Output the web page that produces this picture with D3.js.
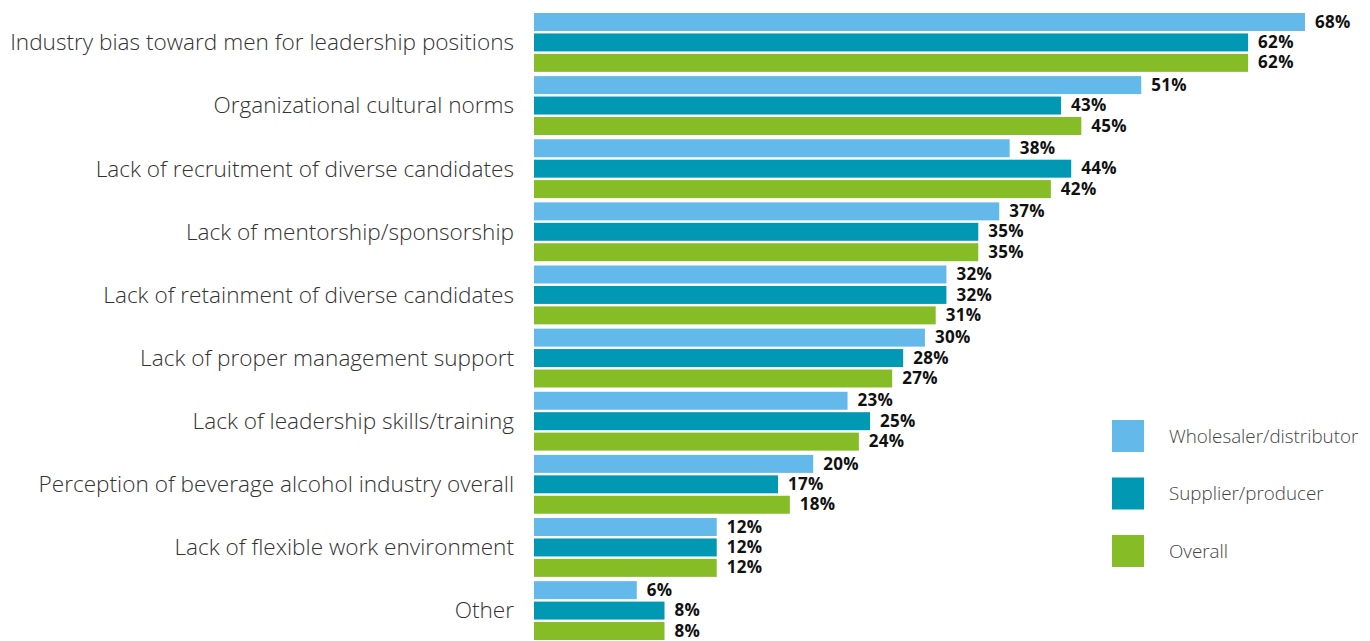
<!DOCTYPE html>
<html>
<head>
<meta charset="utf-8">
<script src="https://cdn.jsdelivr.net/npm/d3@7"></script>
<style>
  body { margin: 0; background: #fff; }
  #chart_pane { width: 1370px; height: 641px; }
</style>
</head>
<body>
<div id="chart_pane"></div>
<script>
// data
var categories = [
    "Industry bias toward men for leadership positions",
    "Organizational cultural norms",
    "Lack of recruitment of diverse candidates",
    "Lack of mentorship/sponsorship",
    "Lack of retainment of diverse candidates",
    "Lack of proper management support",
    "Lack of leadership skills/training",
    "Perception of beverage alcohol industry overall",
    "Lack of flexible work environment",
    "Other"
];
var seriesNames = ["Wholesaler/distributor", "Supplier/producer", "Overall"];
var wholesaler = [68, 51, 38, 37, 32, 30, 23, 20, 12, 6];
var supplier   = [62, 43, 44, 35, 32, 28, 25, 17, 12, 8];
var overall    = [62, 45, 42, 35, 31, 27, 24, 18, 12, 8];
var seriesColors = ["#62B9EA", "#0098B3", "#86BC25"];

var seriesValues = [wholesaler, supplier, overall];

var w = 1370, h = 641;

var svg = d3.select("#chart_pane")
    .append("svg")
    .attr("width", w)
    .attr("height", h)
    .style("font-family", "'Open Sans', sans-serif");

// setup y (groups) and inner y (series)
var yScale = d3.scaleBand()
    .domain(categories)
    .range([13, 640])
    .paddingInner(0.068)
    .paddingOuter(0);

var yInner = d3.scaleBand()
    .domain(seriesNames)
    .range([0, yScale.bandwidth()])
    .paddingInner(0.12);

// setup x - the source graphic squeezes the long bars, a pow scale follows it
var xScale = d3.scalePow()
    .exponent(0.83)
    .domain([0, 68])
    .range([534, 1305]);

// category labels
svg.append("g")
    .selectAll("text")
    .data(categories)
    .enter()
    .append("text")
    .attr("x", 514)
    .attr("y", function(d) { return yScale(d) + yScale.bandwidth() / 2; })
    .attr("dy", "0.35em")
    .attr("text-anchor", "end")
    .attr("fill", "#333")
    .style("font-size", "22.6px")
    .style("font-weight", "300")
    .text(function(d) { return d; });

// bars + value labels
var groups = svg.append("g")
    .selectAll("g")
    .data(categories)
    .enter()
    .append("g")
    .attr("transform", function(d) { return "translate(0," + yScale(d) + ")"; });

groups.each(function(cat, i) {
    var g = d3.select(this);
    var rows = seriesNames.map(function(s, j) {
        return { series: s, value: seriesValues[j][i], color: seriesColors[j] };
    });

    g.selectAll("rect")
        .data(rows)
        .enter()
        .append("rect")
        .attr("x", xScale(0))
        .attr("y", function(d) { return yInner(d.series); })
        .attr("width", function(d) { return xScale(d.value) - xScale(0); })
        .attr("height", yInner.bandwidth())
        .attr("fill", function(d) { return d.color; });

    g.selectAll("text")
        .data(rows)
        .enter()
        .append("text")
        .attr("x", function(d) { return xScale(d.value) + 10; })
        .attr("y", function(d) { return yInner(d.series) + yInner.bandwidth() / 2; })
        .attr("dy", "0.33em")
        .attr("fill", "#111")
        .style("font-size", "17px")
        .style("font-weight", "bold")
        .style("letter-spacing", "0.3px")
        .text(function(d) { return d.value + "%"; });
});

// legend
var legend = svg.append("g")
    .selectAll("g")
    .data(seriesNames)
    .enter()
    .append("g")
    .attr("transform", function(d, i) { return "translate(1112," + (420 + i * 57.5) + ")"; });

legend.append("rect")
    .attr("width", 32)
    .attr("height", 32)
    .attr("fill", function(d, i) { return seriesColors[i]; });

legend.append("text")
    .attr("x", 57)
    .attr("y", 16)
    .attr("dy", "0.35em")
    .attr("fill", "#444")
    .style("font-size", "18.8px")
    .style("font-weight", "300")
    .text(function(d) { return d; });
</script>
</body>
</html>
